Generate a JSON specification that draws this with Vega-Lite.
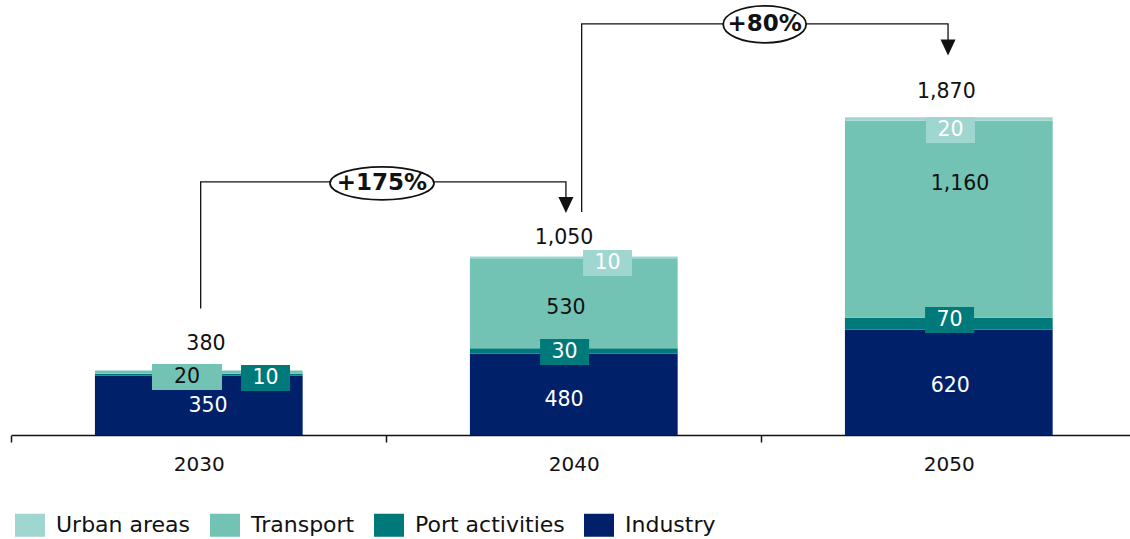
{
  "$schema": "https://vega.github.io/schema/vega-lite/v6.json",
  "width": 1130,
  "height": 435,
  "autosize": {"type": "none"},
  "padding": {"left": 0, "top": 0, "right": 0, "bottom": 104},
  "background": "white",
  "config": {"view": {"stroke": null}, "font": "DejaVu Sans"},
  "datasets": {
    "bars": [
      {"year": "2030", "series": "Industry", "value": 350},
      {"year": "2030", "series": "Port activities", "value": 10},
      {"year": "2030", "series": "Transport", "value": 20},
      {"year": "2030", "series": "Urban areas", "value": 0},
      {"year": "2040", "series": "Industry", "value": 480},
      {"year": "2040", "series": "Port activities", "value": 30},
      {"year": "2040", "series": "Transport", "value": 530},
      {"year": "2040", "series": "Urban areas", "value": 10},
      {"year": "2050", "series": "Industry", "value": 620},
      {"year": "2050", "series": "Port activities", "value": 70},
      {"year": "2050", "series": "Transport", "value": 1160},
      {"year": "2050", "series": "Urban areas", "value": 20}
    ],
    "labels": [
      {"year": "2030", "series": "Industry", "value": 350, "pos": 0.5245, "v": 171},
      {"year": "2030", "series": "Transport", "value": 20, "pos": 0.4685, "v": 341},
      {"year": "2030", "series": "Port activities", "value": 10, "pos": 0.678, "v": 335},
      {"year": "2040", "series": "Industry", "value": 480, "pos": 1.474, "v": 206},
      {"year": "2040", "series": "Port activities", "value": 30, "pos": 1.4755, "v": 488},
      {"year": "2040", "series": "Transport", "value": 530, "pos": 1.479, "v": 750},
      {"year": "2040", "series": "Urban areas", "value": 10, "pos": 1.59, "v": 1012},
      {"year": "2050", "series": "Industry", "value": 620, "pos": 2.504, "v": 288},
      {"year": "2050", "series": "Port activities", "value": 70, "pos": 2.502, "v": 677},
      {"year": "2050", "series": "Transport", "value": 1160, "pos": 2.53, "v": 1477},
      {"year": "2050", "series": "Urban areas", "value": 20, "pos": 2.5045, "v": 1795}
    ],
    "totals": [
      {"year": "2030", "total": 380, "pos": 0.519, "v": 536},
      {"year": "2040", "total": 1050, "pos": 1.474, "v": 1162},
      {"year": "2050", "total": 1870, "pos": 2.4935, "v": 2021}
    ],
    "arrows": [
      {"arrow": "a", "step": 1, "pos": 0.505, "v": 745},
      {"arrow": "a", "step": 2, "pos": 0.505, "v": 1490},
      {"arrow": "a", "step": 3, "pos": 1.479, "v": 1490},
      {"arrow": "a", "step": 4, "pos": 1.479, "v": 1400},
      {"arrow": "b", "step": 1, "pos": 1.521, "v": 1312},
      {"arrow": "b", "step": 2, "pos": 1.521, "v": 2419},
      {"arrow": "b", "step": 3, "pos": 2.498, "v": 2419},
      {"arrow": "b", "step": 4, "pos": 2.498, "v": 2325}
    ],
    "heads": [
      {"arrow": "a", "pos": 1.479, "v": 1354},
      {"arrow": "b", "pos": 2.498, "v": 2280}
    ],
    "growth": [
      {"label": "+175%", "pos": 0.9885, "v": 1481},
      {"label": "+80%", "pos": 2.009, "v": 2417}
    ]
  },
  "layer": [
    {
      "data": {"name": "bars"},
      "mark": {"type": "bar", "width": {"band": 0.554}},
      "encoding": {
        "x": {
          "field": "year", "type": "nominal",
          "scale": {"range": [11.3, 1136.3], "paddingInner": 0, "paddingOuter": 0},
          "axis": {
            "title": null, "labelAngle": 0, "labelFont": "DejaVu Sans", "labelFontSize": 20,
            "labelColor": "#111", "domainColor": "#111", "domainWidth": 1.5,
            "tickColor": "#111", "tickWidth": 1.5, "tickSize": 7, "tickBand": "extent",
            "labelPadding": 12, "grid": false
          }
        },
        "y": {
          "field": "value", "type": "quantitative", "stack": "zero",
          "scale": {"domain": [0, 2560], "nice": false}, "axis": null
        },
        "color": {
          "field": "series", "type": "nominal",
          "scale": {
            "domain": ["Urban areas", "Transport", "Port activities", "Industry"],
            "range": ["#a0d6d0", "#72c3b4", "#00797b", "#00216a"]
          },
          "legend": {
            "title": null, "orient": "none", "legendX": 15, "legendY": 510,
            "direction": "horizontal", "columns": 4,
            "symbolType": "M-1,-0.767H1V0.767H-1Z", "symbolSize": 900,
            "symbolStrokeWidth": 0, "symbolOpacity": 1,
            "labelFont": "DejaVu Sans", "labelFontSize": 22, "labelColor": "#111",
            "labelOffset": 11, "columnPadding": 19, "padding": 0, "labelLimit": 300
          }
        },
        "order": {"field": "series", "sort": "ascending"}
      }
    },
    {
      "data": {"name": "labels"},
      "transform": [{"filter": "datum.series === 'Port activities' || datum.series === 'Urban areas'"}],
      "mark": {"type": "point", "filled": true, "opacity": 1, "shape": "M-1,-0.531H1V0.531H-1Z", "size": 2401, "strokeWidth": 0},
      "encoding": {
        "x": {"field": "pos", "type": "quantitative", "scale": {"domain": [0, 3], "range": [11.3, 1136.3]}, "axis": null},
        "y": {"field": "v", "type": "quantitative", "scale": {"domain": [0, 2560], "nice": false}, "axis": null},
        "color": {"field": "series", "type": "nominal"}
      }
    },
    {
      "data": {"name": "labels"},
      "transform": [{"filter": "datum.year === '2030' && datum.series === 'Transport'"}],
      "mark": {"type": "point", "filled": true, "opacity": 1, "shape": "M-1,-0.371H1V0.371H-1Z", "size": 4900, "strokeWidth": 0},
      "encoding": {
        "x": {"field": "pos", "type": "quantitative", "scale": {"domain": [0, 3], "range": [11.3, 1136.3]}, "axis": null},
        "y": {"field": "v", "type": "quantitative", "scale": {"domain": [0, 2560], "nice": false}, "axis": null},
        "color": {"field": "series", "type": "nominal"}
      }
    },
    {
      "data": {"name": "labels"},
      "transform": [{"filter": "datum.series === 'Transport'"}],
      "mark": {"type": "text", "font": "DejaVu Sans", "fontSize": 20.5, "color": "#111", "align": "center", "baseline": "middle"},
      "encoding": {
        "x": {"field": "pos", "type": "quantitative", "scale": {"domain": [0, 3], "range": [11.3, 1136.3]}, "axis": null},
        "y": {"field": "v", "type": "quantitative", "scale": {"domain": [0, 2560], "nice": false}, "axis": null},
        "text": {"field": "value", "type": "quantitative", "format": ","}
      }
    },
    {
      "data": {"name": "labels"},
      "transform": [{"filter": "datum.series !== 'Transport'"}],
      "mark": {"type": "text", "font": "DejaVu Sans", "fontSize": 20.5, "color": "white", "align": "center", "baseline": "middle"},
      "encoding": {
        "x": {"field": "pos", "type": "quantitative", "scale": {"domain": [0, 3], "range": [11.3, 1136.3]}, "axis": null},
        "y": {"field": "v", "type": "quantitative", "scale": {"domain": [0, 2560], "nice": false}, "axis": null},
        "text": {"field": "value", "type": "quantitative", "format": ","}
      }
    },
    {
      "data": {"name": "totals"},
      "mark": {"type": "text", "font": "DejaVu Sans", "fontSize": 20.5, "color": "#111", "align": "center", "baseline": "middle"},
      "encoding": {
        "x": {"field": "pos", "type": "quantitative", "scale": {"domain": [0, 3], "range": [11.3, 1136.3]}, "axis": null},
        "y": {"field": "v", "type": "quantitative", "scale": {"domain": [0, 2560], "nice": false}, "axis": null},
        "text": {"field": "total", "type": "quantitative", "format": ","}
      }
    },
    {
      "data": {"name": "arrows"},
      "mark": {"type": "line", "color": "#111", "strokeWidth": 1.3},
      "encoding": {
        "x": {"field": "pos", "type": "quantitative", "scale": {"domain": [0, 3], "range": [11.3, 1136.3]}, "axis": null},
        "y": {"field": "v", "type": "quantitative", "scale": {"domain": [0, 2560], "nice": false}, "axis": null},
        "detail": {"field": "arrow", "type": "nominal"},
        "order": {"field": "step", "type": "quantitative"}
      }
    },
    {
      "data": {"name": "heads"},
      "mark": {"type": "point", "filled": true, "opacity": 1, "color": "#111", "shape": "M-0.94,-1L0.94,-1L0,1Z", "size": 256, "strokeWidth": 0},
      "encoding": {
        "x": {"field": "pos", "type": "quantitative", "scale": {"domain": [0, 3], "range": [11.3, 1136.3]}, "axis": null},
        "y": {"field": "v", "type": "quantitative", "scale": {"domain": [0, 2560], "nice": false}, "axis": null}
      }
    },
    {
      "data": {"name": "growth"},
      "transform": [{"filter": "datum.label === '+175%'"}],
      "mark": {"type": "point", "filled": false, "opacity": 1, "fill": "white", "fillOpacity": 1, "stroke": "#111", "strokeWidth": 1.8, "shape": "M-1,0A1,0.317,0,1,1,1,0A1,0.317,0,1,1,-1,0Z", "size": 10816},
      "encoding": {
        "x": {"field": "pos", "type": "quantitative", "scale": {"domain": [0, 3], "range": [11.3, 1136.3]}, "axis": null},
        "y": {"field": "v", "type": "quantitative", "scale": {"domain": [0, 2560], "nice": false}, "axis": null}
      }
    },
    {
      "data": {"name": "growth"},
      "transform": [{"filter": "datum.label === '+80%'"}],
      "mark": {"type": "point", "filled": false, "opacity": 1, "fill": "white", "fillOpacity": 1, "stroke": "#111", "strokeWidth": 1.8, "shape": "M-1,0A1,0.446,0,1,1,1,0A1,0.446,0,1,1,-1,0Z", "size": 6889},
      "encoding": {
        "x": {"field": "pos", "type": "quantitative", "scale": {"domain": [0, 3], "range": [11.3, 1136.3]}, "axis": null},
        "y": {"field": "v", "type": "quantitative", "scale": {"domain": [0, 2560], "nice": false}, "axis": null}
      }
    },
    {
      "data": {"name": "growth"},
      "mark": {"type": "text", "font": "DejaVu Sans", "fontWeight": "bold", "fontSize": 23, "color": "#111", "align": "center", "baseline": "middle"},
      "encoding": {
        "x": {"field": "pos", "type": "quantitative", "scale": {"domain": [0, 3], "range": [11.3, 1136.3]}, "axis": null},
        "y": {"field": "v", "type": "quantitative", "scale": {"domain": [0, 2560], "nice": false}, "axis": null},
        "text": {"field": "label", "type": "nominal"}
      }
    }
  ],
  "resolve": {"scale": {"x": "independent"}}
}
